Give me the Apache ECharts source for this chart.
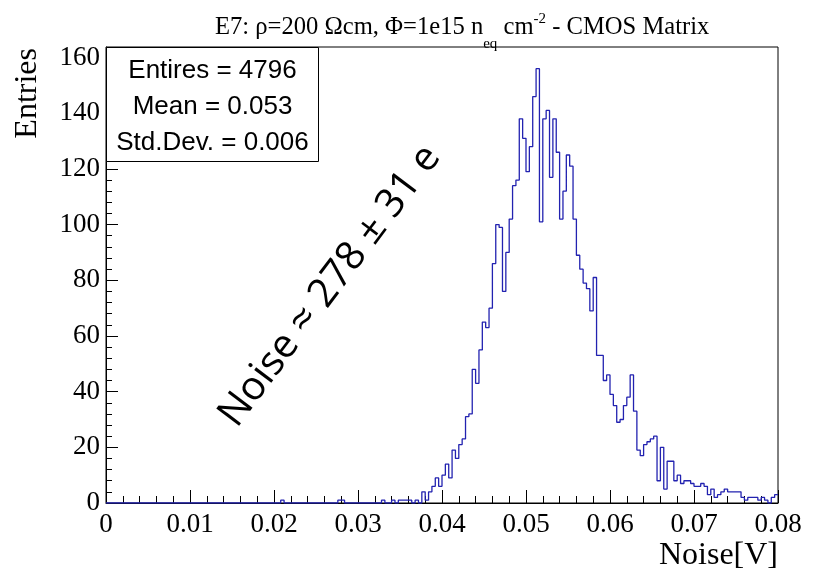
<!DOCTYPE html>
<html>
<head>
<meta charset="utf-8">
<script src="https://cdn.jsdelivr.net/npm/echarts@6/dist/echarts.min.js"></script>
<style>
html,body{margin:0;padding:0;background:#fff;}
#chart{width:818px;height:584px;}
</style>
</head>
<body>
<div id="chart"></div>
<script>
// ---- data ----
const binMin = 0;
const binMax = 0.08;
const nBins = 200;
const counts = [
  0,0,0,0,0,0,0,0,0,0, 0,0,0,0,0,0,0,0,0,0,
  0,0,0,0,0,0,0,0,0,0, 0,0,0,0,0,0,0,0,0,0,
  0,0,0,0,0,0,0,0,0,0, 0,0,1,0,0,0,0,0,0,0,
  0,0,0,0,0,0,0,0,0,1, 1,0,0,0,0,0,0,0,0,0,
  0,0,1,0,0,1,0,1,1,1, 1,0,1,0,4,1,4,6,9,6,
  10,14,9,19,16,21,23,31,32,48, 43,55,65,63,70,86,100,99,76,90,
  102,114,116,138,131,119,128,146,156,101, 138,141,117,138,126,102,112,125,121,102,
  89,84,79,77,69,81,53,53,44,46, 39,35,29,30,35,38,46,33,19,17,
  21,22,23,24,8,20,5,15,15,8, 10,7,8,8,7,6,6,7,6,3,
  5,2,3,4,5,4,4,4,4,2, 1,2,2,2,1,2,1,0,2,3
];
const xTickLabels = ['0','0.01','0.02','0.03','0.04','0.05','0.06','0.07','0.08'];
const yTickLabels = ['0','20','40','60','80','100','120','140','160'];
const titleParts = ['E7: ρ=200 Ωcm, Φ=1e15 n', 'eq', ' cm', '-2', ' - CMOS Matrix'];
const xTitle = 'Noise[V]';
const yTitle = 'Entries';
const statsLines = ['Entires = 4796', 'Mean = 0.053', 'Std.Dev. = 0.006'];
const annotation = 'Noise ≈ 278 ± 31 e';

// ---- build ----
const binWidth = (binMax - binMin) / nBins;
const xStep = 0.01, yStep = 20;
const yMax = 1.05 * Math.max.apply(null, counts);
const histPts = counts.map((c, i) => [binMin + i * binWidth, c]);
histPts.push([binMax, counts[counts.length - 1]]);

const serif = 'Liberation Serif';
const sans = 'Liberation Sans';

const chart = echarts.init(document.getElementById('chart'), null, {renderer: 'canvas'});
chart.setOption({
  animation: false,
  backgroundColor: '#fff',
  title: {
    text: '{m|' + titleParts[0] + '}{sub|' + titleParts[1] + '}{m|' + titleParts[2] + '}{sup|' + titleParts[3] + '}{m|' + titleParts[4] + '}',
    left: 210,
    top: 9,
    textStyle: {
      fontWeight: 'normal',
      rich: {
        m: {fontFamily: serif, fontSize: 24.6, fontWeight: 'normal', color: '#000', lineHeight: 27},
        sub: {fontFamily: serif, fontSize: 15, fontWeight: 'normal', color: '#000', lineHeight: 15, padding: [34, 0, 0, 0]},
        sup: {fontFamily: serif, fontSize: 15, fontWeight: 'normal', color: '#000', lineHeight: 15, padding: [0, 0, 16, 0]}
      }
    }
  },
  grid: {left: 106, right: 40, top: 47, bottom: 81, show: true, borderColor: '#000', borderWidth: 1, backgroundColor: 'transparent'},
  xAxis: {
    type: 'value', min: binMin, max: binMax, interval: xStep,
    axisLine: {show: true, lineStyle: {color: '#000', width: 1}},
    axisTick: {show: true, inside: true, length: 13, lineStyle: {color: '#000', width: 1}},
    minorTick: {show: true, splitNumber: 5, length: 7, lineStyle: {color: '#000', width: 1}},
    splitLine: {show: false},
    axisLabel: {
      fontFamily: serif, fontSize: 27, color: '#000', margin: 8,
      formatter: v => xTickLabels[Math.round((v - binMin) / xStep)] || ''
    }
  },
  yAxis: {
    type: 'value', min: 0, max: yMax, interval: yStep,
    axisLine: {show: true, lineStyle: {color: '#000', width: 1}},
    axisTick: {show: true, inside: true, length: 12, lineStyle: {color: '#000', width: 1}},
    minorTick: {show: true, splitNumber: 5, length: 6, lineStyle: {color: '#000', width: 1}},
    splitLine: {show: false},
    axisLabel: {
      fontFamily: serif, fontSize: 27, color: '#000', margin: 6, showMaxLabel: false,
      formatter: v => {
        const k = v / yStep;
        return Math.abs(k - Math.round(k)) < 1e-6 ? (yTickLabels[Math.round(k)] || '') : '';
      }
    }
  },
  series: [{
    type: 'line', step: 'end', data: histPts, symbol: 'none', clip: true,
    lineStyle: {color: '#2222b0', width: 1.3}
  }],
  graphic: [
    {type: 'text', x: 28, y: 48, rotation: Math.PI / 2,
     style: {text: yTitle, fontFamily: serif, fontSize: 32, fill: '#000', align: 'right', verticalAlign: 'middle'}},
    {type: 'text', x: 778, y: 556,
     style: {text: xTitle, fontFamily: serif, fontSize: 32, fill: '#000', align: 'right', verticalAlign: 'middle'}},
    {type: 'rect', shape: {x: 106.5, y: 47.5, width: 212, height: 114},
     style: {fill: '#fff', stroke: '#000', lineWidth: 1}, z: 10},
    {type: 'text', x: 212.5, y: 71, z: 11,
     style: {text: statsLines[0], fontFamily: sans, fontSize: 26, fill: '#000', align: 'center', verticalAlign: 'middle'}},
    {type: 'text', x: 212.5, y: 107, z: 11,
     style: {text: statsLines[1], fontFamily: sans, fontSize: 26, fill: '#000', align: 'center', verticalAlign: 'middle'}},
    {type: 'text', x: 212.5, y: 143, z: 11,
     style: {text: statsLines[2], fontFamily: sans, fontSize: 26, fill: '#000', align: 'center', verticalAlign: 'middle'}},
    {type: 'text', x: 330, y: 286, rotation: 53 * Math.PI / 180, z: 11,
     style: {text: annotation, fontFamily: 'Open Sans', fontSize: 40, fill: '#000', align: 'center', verticalAlign: 'middle'}}
  ]
});
</script>
</body>
</html>
